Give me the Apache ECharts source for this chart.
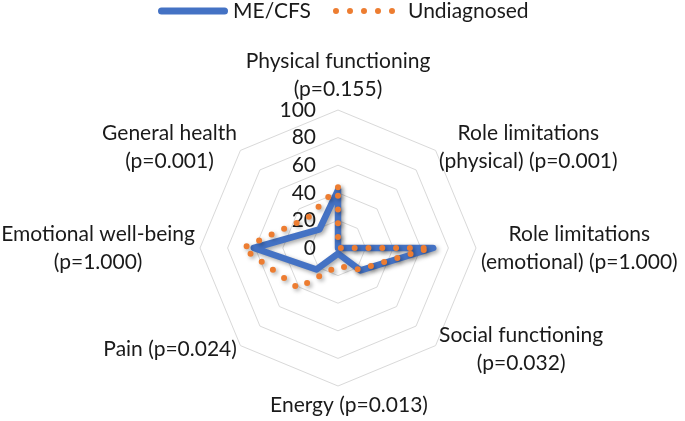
<!DOCTYPE html>
<html>
<head>
<meta charset="utf-8">
<script src="https://cdn.jsdelivr.net/npm/echarts@6/dist/echarts.min.js"></script>
<style>
html,body{margin:0;padding:0;background:#fff;}
#chart{width:685px;height:421px;}
</style>
</head>
<body>
<div id="chart"></div>
<script>
// ---- data (reference order: clockwise from top) ----
const categories = [
  'Physical functioning\n(p=0.155)',
  'Role limitations\n(physical) (p=0.001)',
  'Role limitations\n(emotional) (p=1.000)',
  'Social functioning\n(p=0.032)',
  'Energy (p=0.013)',
  'Pain (p=0.024)',
  'Emotional well-being\n(p=1.000)',
  'General health\n(p=0.001)'
];
const meCfs       = [42, 0, 69, 23, 4, 22, 61, 19];
const undiagnosed = [44, 0, 67, 22, 13, 41, 69, 31];
const seriesNames = ['ME/CFS', 'Undiagnosed'];
const axisMin = 0, axisMax = 100, axisStep = 20;

// ---- layout / style ----
const TEXT = '#1a1a1a';
const FONT = 'Lato';
const BLUE = '#4472C4';
const ORANGE = '#ED7D31';

// ECharts lays indicators out counter-clockwise; reference is clockwise.
const order = [0].concat(categories.map((_, i) => i).slice(1).reverse());
const reorder = arr => order.map(i => arr[i]);

const indicators = order.map((i, k) => {
  const ind = { name: categories[i], min: axisMin, max: axisMax };
  if (k === 0) {
    ind.axisLabel = { show: true, fontSize: 21, fontFamily: FONT, color: TEXT, margin: 22 };
  }
  return ind;
});

const bluePath = 'path://M3.5,0H66.5A3.5,3.5,0,0,1,66.5,7H3.5A3.5,3.5,0,0,1,3.5,0Z';
let dots = 'M0,0M70,7';
for (let k = 0; k < 5; k++) {
  const c = 3 + k * 14, r = 3;
  dots += 'M' + (c - r) + ',3.5A' + r + ',' + r + ',0,1,0,' + (c + r) + ',3.5A' + r + ',' + r + ',0,1,0,' + (c - r) + ',3.5Z';
}
const orangePath = 'path://' + dots;

const shadow = { shadowColor: 'rgba(0,0,0,0.35)', shadowBlur: 4, shadowOffsetX: 2, shadowOffsetY: 2 };

const legendCommon = {
  top: 0, padding: 0, itemWidth: 70, itemHeight: 7, symbolKeepAspect: false,
  itemStyle: { borderWidth: 0 },
  textStyle: { fontSize: 21, fontFamily: FONT, color: TEXT, lineHeight: 22 },
  selectedMode: false
};

const chart = echarts.init(document.getElementById('chart'), null, { renderer: 'canvas' });
chart.setOption({
  animation: false,
  backgroundColor: '#fff',
  legend: [
    Object.assign({}, legendCommon, { left: 158, data: [{ name: seriesNames[0], icon: bluePath }] }),
    Object.assign({}, legendCommon, { left: 333, data: [{ name: seriesNames[1], icon: orangePath }] })
  ],
  radar: {
    center: [338, 248],
    radius: 138,
    startAngle: 90,
    splitNumber: (axisMax - axisMin) / axisStep,
    shape: 'polygon',
    indicator: indicators,
    nameGap: 5,
    axisName: {
      color: TEXT,
      fontFamily: FONT,
      fontSize: 21,
      formatter: function (name) {
        const style = name.indexOf('Energy') === 0 ? 'e' : 'c';
        return name.split('\n').map(l => '{' + style + '|' + l + '}').join('\n');
      },
      rich: {
        c: { align: 'center', fontSize: 21, fontFamily: FONT, color: TEXT, lineHeight: 28 },
        e: { align: 'center', fontSize: 21, fontFamily: FONT, color: TEXT, lineHeight: 28, padding: [0, 0, 0, 22] }
      }
    },
    axisLine: { show: false },
    axisTick: { show: false },
    axisLabel: { show: false },
    splitLine: { lineStyle: { color: '#D9D9D9', width: 1 } },
    splitArea: { show: false }
  },
  series: [{
    type: 'radar',
    symbol: 'none',
    silent: true,
    data: [
      {
        name: seriesNames[0],
        value: reorder(meCfs),
        itemStyle: { color: BLUE },
        lineStyle: Object.assign({ color: BLUE, width: 6.5, join: 'round', cap: 'round' }, shadow)
      },
      {
        name: seriesNames[1],
        value: reorder(undiagnosed),
        itemStyle: { color: ORANGE },
        lineStyle: Object.assign({ color: ORANGE, width: 6, type: [0, 13.8], cap: 'round', join: 'round' }, shadow)
      }
    ]
  }]
});
</script>
</body>
</html>
